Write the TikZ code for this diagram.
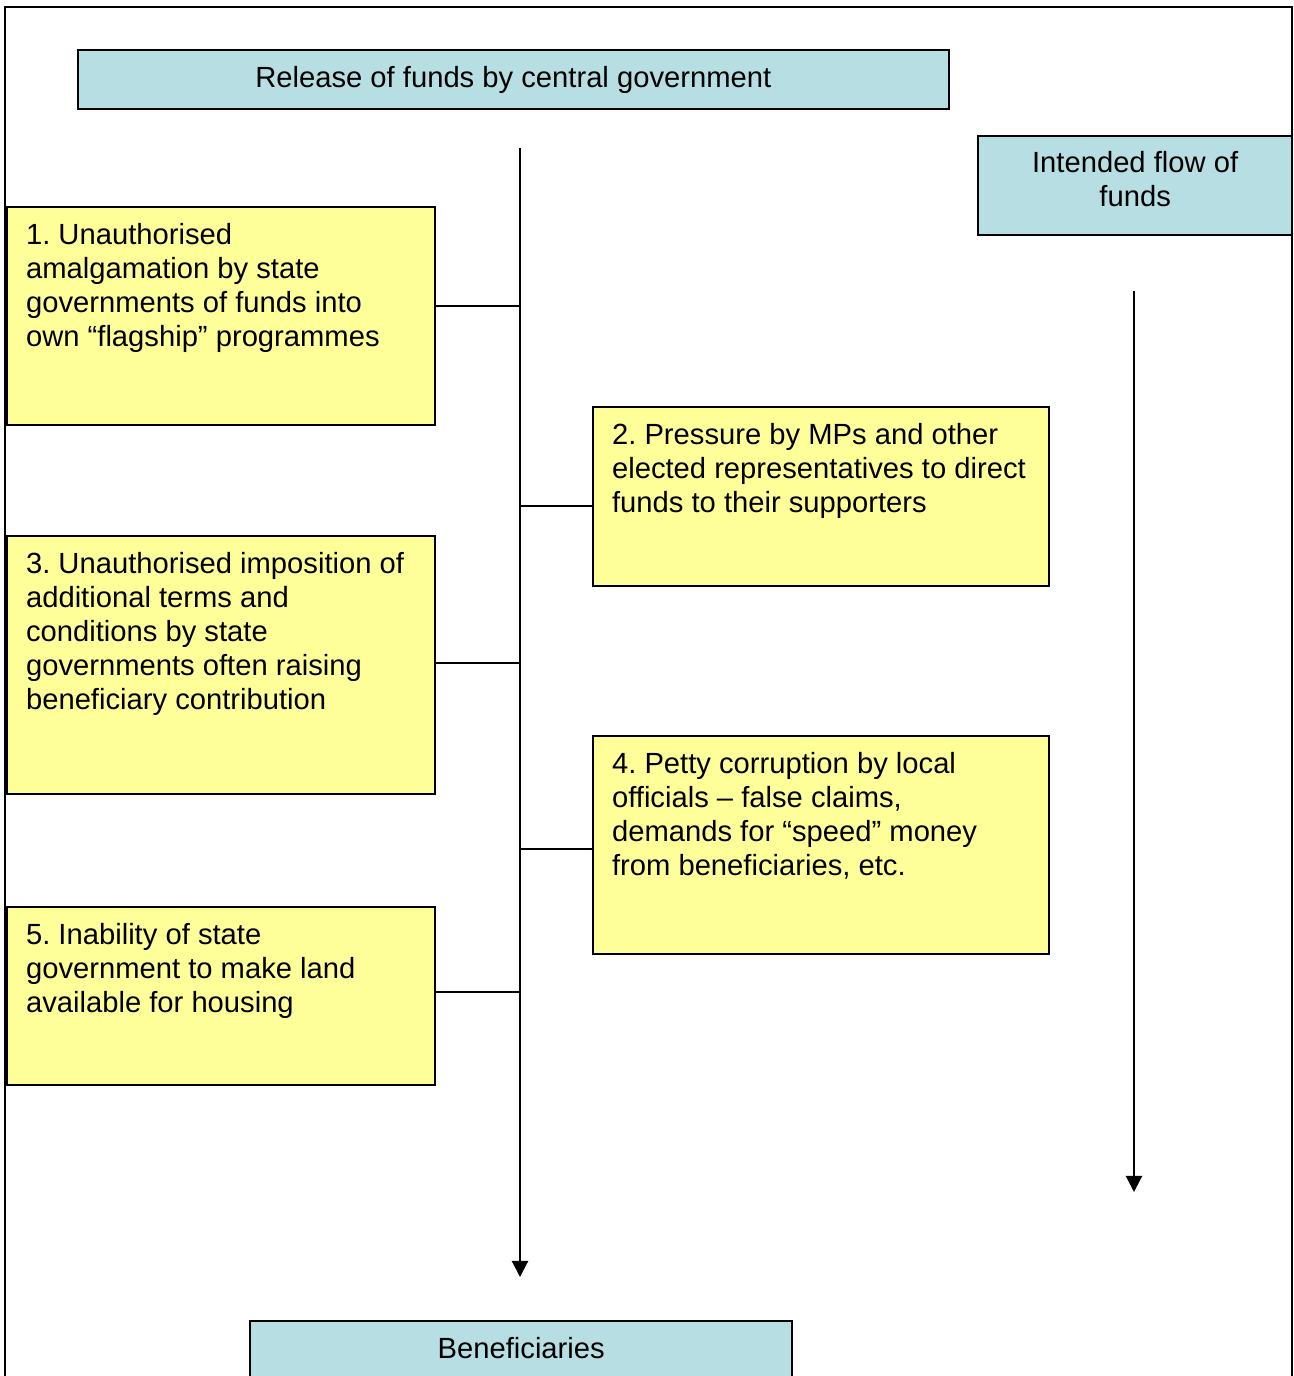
\documentclass[tikz,border=0pt]{standalone}
\usepackage{fontspec}
\setmainfont{Liberation Sans}
\usetikzlibrary{arrows.meta}
\definecolor{fundblue}{RGB}{183,222,226}
\definecolor{issueyellow}{RGB}{255,255,153}
\frenchspacing
\newcommand{\issuetext}[3]{\begin{minipage}[t][#2][t]{#1}\begin{tabular}[t]{@{}l@{}}#3\end{tabular}\end{minipage}}
\newcommand{\fundtext}[3]{\begin{minipage}[t][#2][t]{#1}\centering #3\end{minipage}}

\begin{document}
\begin{tikzpicture}[x=0.01cm,y=-0.01cm,
	every node/.style={font=\fontsize{8.3}{9.67}\selectfont},
	fund/.style={draw,line width=0.6pt,fill=fundblue,anchor=north west,align=center,inner sep=0pt},
	issue/.style={draw,line width=0.6pt,fill=issueyellow,anchor=north west,inner xsep=0.19cm,inner ysep=0.14cm},
	link/.style={line width=0.6pt},
	flow/.style={line width=0.6pt,-{Triangle[length=4.6pt,width=4.6pt]}}]

\clip (0,0) rectangle (1293,1376);
% outer frame
\draw[link] (5,1390) -- (5,7) -- (1292,7) -- (1292,1390);

\node[fund,minimum width=8.7cm,minimum height=0.59cm] (release) at (77,49) {Release of funds by central government};
\node[fund,inner ysep=0.15cm] (intended) at (977,135) {\fundtext{3.14cm}{0.69cm}{Intended flow of\\ funds}};
\node[fund,inner ysep=0.16cm] (benef) at (249,1320) {\fundtext{5.42cm}{0.8cm}{Beneficiaries}};

\node[issue] (issue1) at (6,206) {\issuetext{3.9cm}{1.9cm}{1. Unauthorised\\ amalgamation by state\\ governments of funds into\\ own “flagship” programmes}};
\node[issue] (issue2) at (592,406) {\issuetext{4.18cm}{1.51cm}{2. Pressure by MPs and other\\ elected representatives to direct\\ funds to their supporters}};
\node[issue] (issue3) at (6,535) {\issuetext{3.9cm}{2.3cm}{3. Unauthorised imposition of\\ additional terms and\\ conditions by state\\ governments often raising\\ beneficiary contribution}};
\node[issue] (issue4) at (592,735) {\issuetext{4.18cm}{1.9cm}{4. Petty corruption by local\\ officials – false claims,\\ demands for “speed” money\\ from beneficiaries, etc.}};
\node[issue] (issue5) at (6,906) {\issuetext{3.9cm}{1.5cm}{5. Inability of state\\ government to make land\\ available for housing}};

% main flow and its side branches
\coordinate (mtop) at (520,148);
\coordinate (mend) at (520,1277);
\coordinate (j1) at (520,306);
\coordinate (j2) at (520,506);
\coordinate (j3) at (520,663);
\coordinate (j4) at (520,849);
\coordinate (j5) at (520,992);
\draw[flow] (mtop) -- (mend);
\draw[link] (j1) -- (j1 -| issue1.east);
\draw[link] (j2) -- (j2 -| issue2.west);
\draw[link] (j3) -- (j3 -| issue3.east);
\draw[link] (j4) -- (j4 -| issue4.west);
\draw[link] (j5) -- (j5 -| issue5.east);

% intended flow
\coordinate (rtop) at (1134,291);
\coordinate (rend) at (1134,1192);
\draw[flow] (rtop) -- (rend);

\end{tikzpicture}
\end{document}
